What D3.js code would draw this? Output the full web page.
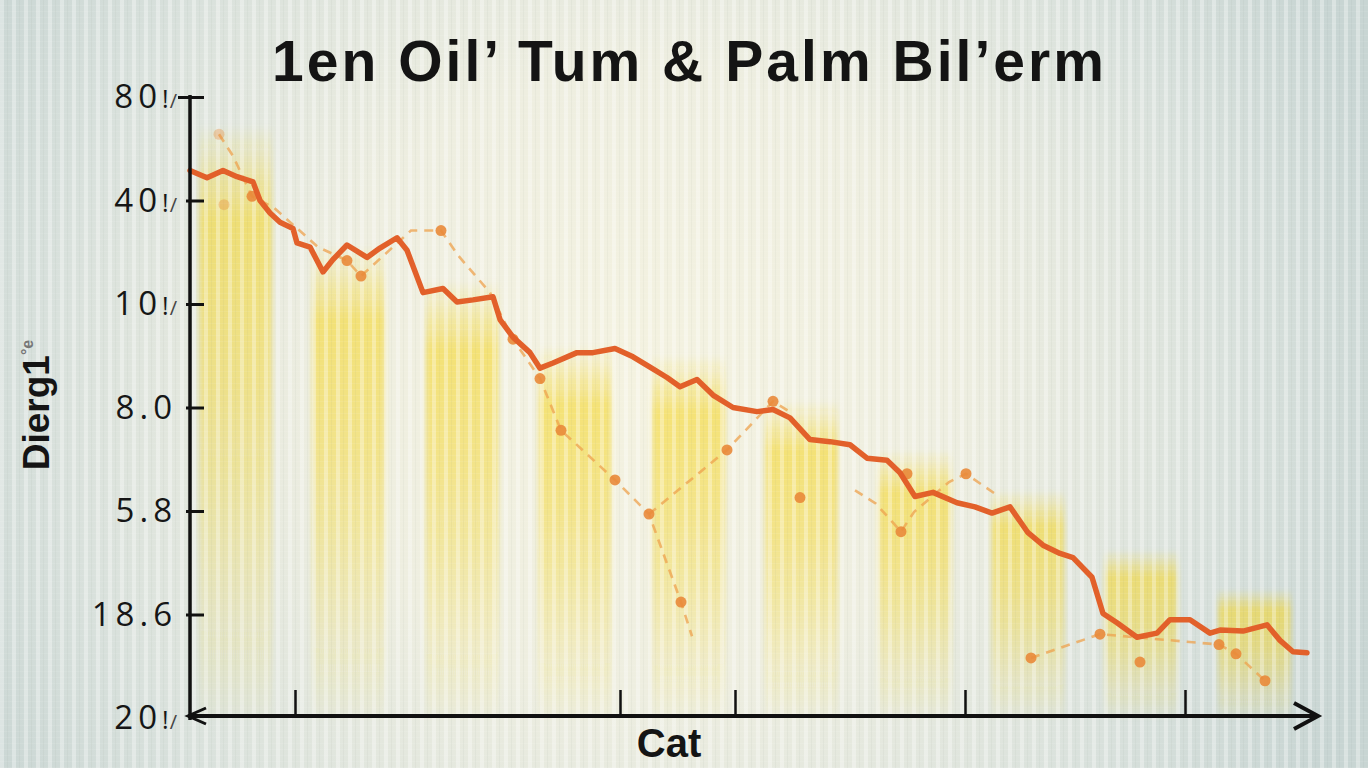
<!DOCTYPE html>
<html>
<head>
<meta charset="utf-8">
<script src="https://cdn.jsdelivr.net/npm/d3@7"></script>
<style>
  body { margin: 0; background: #dfe6e2; }
  svg { display: block; }
</style>
</head>
<body>
<svg id="chart"></svg>
<script>
// ---- data ----
const yTickValues = [0, 10, 20, 30, 40, 50, 60];
const yTickLabels = ['20!/', '18.6', '5.8', '8.0', '10!/', '40!/', '80!/'];
const xTickValues = [10.5, 43, 54.5, 77.5, 99.5];

const barCategories = ['b1', 'b2', 'b3', 'b4', 'b5', 'b6', 'b7', 'b8', 'b9', 'b10'];
const barTops = [57.3, 45.7, 42.3, 36.0, 35.1, 30.7, 25.9, 22.0, 16.2, 12.4];

// main (solid) series
const lineX = [0, 1.7, 3.3, 4.7, 6.3, 7.0, 8.0, 9.0, 10.3, 10.7, 12.0, 13.3, 14.3, 15.7, 17.7, 19.0,
  20.7, 21.7, 23.3, 25.3, 26.7, 28.3, 30.3, 31.0, 32.3, 34.0, 35.0, 36.3, 38.7, 40.3, 42.5, 44.3,
  46.0, 47.7, 49.0, 50.7, 52.3, 54.3, 56.7, 58.3, 60.0, 62.0, 64.0, 66.0, 67.7, 69.7, 71.0, 72.5,
  74.3, 76.7, 78.5, 80.2, 82.0, 83.8, 85.3, 87.0, 88.3, 90.2, 91.3, 92.7, 94.7, 96.7, 98.0, 100.0,
  102.0, 103.0, 105.3, 107.7, 109.0, 110.3, 111.7];
const lineY = [52.9, 52.2, 52.9, 52.3, 51.8, 50.0, 48.8, 47.9, 47.3, 45.9, 45.5, 43.1, 44.3, 45.7, 44.5, 45.4,
  46.4, 45.2, 41.1, 41.5, 40.2, 40.4, 40.7, 38.5, 36.8, 35.3, 33.8, 34.3, 35.3, 35.3, 35.7, 34.9,
  33.9, 32.9, 32.0, 32.7, 31.2, 30.0, 29.6, 29.8, 29.0, 26.9, 26.7, 26.4, 25.1, 24.9, 23.7, 21.4,
  21.8, 20.8, 20.4, 19.8, 20.4, 17.9, 16.7, 15.9, 15.5, 13.6, 10.1, 9.2, 7.8, 8.2, 9.5, 9.5,
  8.2, 8.5, 8.4, 9.0, 7.5, 6.4, 6.3];

// dashed series, drawn as separate runs
const dashX = [
  [2.9, 4.3, 6.2, 8.4, 12.8, 15.7, 17.1, 22.1, 25.1, 26.8, 30.0, 32.3, 35.0, 37.1, 42.5, 45.9, 49.1, 50.2],
  [45.9, 53.7, 58.3, 59.8],
  [66.5, 68.6, 71.1, 72.4, 75.9, 77.6, 80.9],
  [84.1, 91.0, 102.9, 104.6, 107.5]
];
const dashY = [
  [56.4, 54.3, 50.4, 49.3, 45.5, 44.2, 42.7, 47.1, 47.1, 44.7, 41.1, 36.6, 32.8, 27.8, 23.0, 19.7, 11.2, 7.9],
  [19.7, 25.9, 30.6, 29.7],
  [22.0, 20.7, 18.0, 19.9, 22.8, 23.6, 21.4],
  [5.8, 8.1, 7.1, 6.2, 3.6]
];
// dot markers of the dashed series
const dotX = [2.9, 3.4, 6.2, 15.7, 17.1, 25.1, 32.3, 35.0, 37.1, 42.5, 45.9, 49.1, 53.7, 58.3, 61.0,
  71.1, 71.7, 77.6, 84.1, 91.0, 95.0, 102.9, 104.6, 107.5];
const dotY = [56.4, 49.6, 50.4, 44.2, 42.7, 47.1, 36.6, 32.8, 27.8, 23.0, 19.7, 11.2, 25.9, 30.6, 21.3,
  18.0, 23.6, 23.6, 5.8, 8.1, 5.4, 7.1, 6.2, 3.6];
const dotFaint = [1, 1, 0, 0, 0, 0, 0, 0, 0, 0, 0, 0, 0, 0, 0, 0, 0, 0, 0, 0, 0, 0, 0, 0];

// ---- layout ----
const width = 1368, height = 768;
const margin = { top: 97, right: 58, bottom: 50, left: 190 };

const svg = d3.select('#chart').attr('width', width).attr('height', height);
const defs = svg.append('defs');

// background gradient
const bg = defs.append('radialGradient').attr('id', 'bg')
  .attr('gradientUnits', 'userSpaceOnUse')
  .attr('cx', 640).attr('cy', 380).attr('r', 780);
bg.append('stop').attr('offset', '0').attr('stop-color', '#f4f2e0');
bg.append('stop').attr('offset', '0.4').attr('stop-color', '#eeeee0');
bg.append('stop').attr('offset', '0.75').attr('stop-color', '#d9e1dc');
bg.append('stop').attr('offset', '1').attr('stop-color', '#c8d5d3');

// fading bars
const bf = defs.append('linearGradient').attr('id', 'barFade')
  .attr('x1', 0).attr('y1', 0).attr('x2', 0).attr('y2', 1);
[[0, 0], [0.16, 0.55], [0.45, 0.45], [0.8, 0.18], [1, 0.02]].forEach(([o, a]) => {
  bf.append('stop').attr('offset', o).attr('stop-color', '#f6d622').attr('stop-opacity', a);
});
// soft edges for the bars
defs.append('filter').attr('id', 'soft')
  .attr('x', '-10%').attr('y', '-5%').attr('width', '120%').attr('height', '110%')
  .append('feGaussianBlur').attr('stdDeviation', 2.5);

// vertical stripe texture
const pat = defs.append('pattern').attr('id', 'stripes')
  .attr('patternUnits', 'userSpaceOnUse').attr('width', 12).attr('height', 6);
pat.append('rect').attr('x', 0).attr('y', 0).attr('width', 4).attr('height', 6)
  .attr('fill', '#ffffff').attr('opacity', 0.32);
pat.append('rect').attr('x', 7).attr('y', 0).attr('width', 1).attr('height', 6)
  .attr('fill', '#7a8a70').attr('opacity', 0.06);
pat.append('rect').attr('x', 0).attr('y', 5).attr('width', 12).attr('height', 1)
  .attr('fill', '#ffffff').attr('opacity', 0.08);

svg.append('rect').attr('width', width).attr('height', height).attr('fill', 'url(#bg)');

// scales
const x = d3.scaleLinear().domain([0, 112]).range([margin.left, width - margin.right]);
const y = d3.scaleLinear().domain([0, 60]).range([718, margin.top]);
const xb = d3.scaleBand().domain(barCategories)
  .range([x(-1.1), x(112.1)])
  .paddingInner(0.36).paddingOuter(0.18);

// bars
svg.append('g')
  .attr('filter', 'url(#soft)')
  .selectAll('rect')
  .data(barTops)
  .enter()
  .append('rect')
  .attr('x', (_, i) => xb(barCategories[i]))
  .attr('y', d => y(d))
  .attr('width', xb.bandwidth())
  .attr('height', d => y(0) - y(d))
  .attr('fill', 'url(#barFade)');

svg.append('rect').attr('width', width).attr('height', height).attr('fill', 'url(#stripes)');

// dashed series
const dashLine = d3.line().x(d => x(d[0])).y(d => y(d[1]));
svg.append('g')
  .selectAll('path')
  .data(dashX.map((xs, k) => xs.map((v, i) => [v, dashY[k][i]])))
  .enter()
  .append('path')
  .attr('d', dashLine)
  .attr('fill', 'none')
  .attr('stroke', '#eda24e')
  .attr('stroke-width', 2.6)
  .attr('stroke-dasharray', '9 7')
  .attr('opacity', 0.75);

svg.append('g')
  .selectAll('circle')
  .data(dotX)
  .enter()
  .append('circle')
  .attr('cx', d => x(d))
  .attr('cy', (_, i) => y(dotY[i]))
  .attr('r', 5.5)
  .attr('fill', '#e98a3a')
  .attr('opacity', (_, i) => dotFaint[i] ? 0.35 : 0.9);

// main line
const mainLine = d3.line().x(d => x(d[0])).y(d => y(d[1]));
svg.append('path')
  .datum(lineX.map((v, i) => [v, lineY[i]]))
  .attr('d', mainLine)
  .attr('fill', 'none')
  .attr('stroke', '#e2602a')
  .attr('stroke-width', 5.5)
  .attr('stroke-linejoin', 'round')
  .attr('stroke-linecap', 'round');

// y axis
const yAxis = svg.append('g')
  .attr('transform', `translate(${margin.left},0)`)
  .call(d3.axisLeft(y).tickValues(yTickValues).tickSize(-14).tickPadding(13)
    .tickFormat((d, i) => yTickLabels[i]));
yAxis.select('.domain').remove();
yAxis.selectAll('.tick line').attr('stroke', '#111').attr('stroke-width', 3).attr('x1', -4);
yAxis.selectAll('.tick').filter(d => d === 0).select('line').remove();
yAxis.selectAll('.tick').filter(d => d === 60).select('line').attr('x1', -12);
yAxis.selectAll('.tick text').each(function (d, i) {
  const t = d3.select(this);
  const label = yTickLabels[i];
  const k = label.indexOf('!');
  t.text(null)
    .attr('fill', '#161616')
    .style('font-family', '"Open Sans", "DejaVu Sans", sans-serif')
    .style('font-size', '33px')
    .style('letter-spacing', '5px');
  if (k < 0) {
    t.append('tspan').text(label);
  } else {
    t.append('tspan').text(label.slice(0, k));
    t.append('tspan').text(label.slice(k, k + 1)).style('font-size', '25px').style('letter-spacing', '1px');
    t.append('tspan').text(label.slice(k + 1))
      .style('font-size', '20px').style('letter-spacing', '0px').attr('fill', '#444');
  }
});
svg.append('line')
  .attr('x1', margin.left).attr('x2', margin.left)
  .attr('y1', y(60) - 2).attr('y2', y(0) + 2)
  .attr('stroke', '#111').attr('stroke-width', 3.5);

// x axis
const xAxis = svg.append('g')
  .attr('transform', `translate(0,${y(0) - 2})`)
  .call(d3.axisBottom(x).tickValues(xTickValues).tickSize(-26).tickFormat(''));
xAxis.select('.domain').remove();
xAxis.selectAll('.tick line').attr('stroke', '#111').attr('stroke-width', 2.5);

const axY = y(0) - 2;
const x0 = x.range()[0], x1 = x.range()[1] + 8;
svg.append('line')
  .attr('x1', x0 - 2).attr('x2', x1)
  .attr('y1', axY).attr('y2', axY)
  .attr('stroke', '#111').attr('stroke-width', 4);
svg.append('path')
  .attr('d', `M${x1 - 24},${axY - 13}L${x1},${axY}L${x1 - 24},${axY + 13}`)
  .attr('fill', 'none').attr('stroke', '#111').attr('stroke-width', 4)
  .attr('stroke-linejoin', 'miter');
svg.append('path')
  .attr('d', `M${x0 + 16},${axY - 8}L${x0 - 2},${axY}L${x0 + 16},${axY + 8}`)
  .attr('fill', 'none').attr('stroke', '#111').attr('stroke-width', 3);

// titles
svg.append('text')
  .attr('x', 688).attr('y', 81)
  .attr('text-anchor', 'middle')
  .attr('textLength', 832).attr('lengthAdjust', 'spacing')
  .style('font-family', '"Liberation Sans", Arial, sans-serif')
  .style('font-weight', 'bold')
  .style('font-size', '57px')
  .attr('fill', '#141414')
  .text('1en Oil’ Tum & Palm Bil’erm');

svg.append('text')
  .attr('x', 669).attr('y', 757)
  .attr('text-anchor', 'middle')
  .style('font-family', '"Liberation Sans", Arial, sans-serif')
  .style('font-weight', 'bold')
  .style('font-size', '40px')
  .attr('fill', '#141414')
  .text('Cat');

const yTitle = svg.append('text')
  .attr('transform', 'translate(49,405) rotate(-90)')
  .attr('text-anchor', 'middle')
  .style('font-family', '"Liberation Sans", Arial, sans-serif')
  .style('font-weight', 'bold')
  .style('font-size', '37px')
  .attr('fill', '#141414');
yTitle.append('tspan').text('Dierg1');
yTitle.append('tspan').text('°e').style('font-size', '16px').attr('dy', -16).attr('fill', '#777');
</script>
</body>
</html>
